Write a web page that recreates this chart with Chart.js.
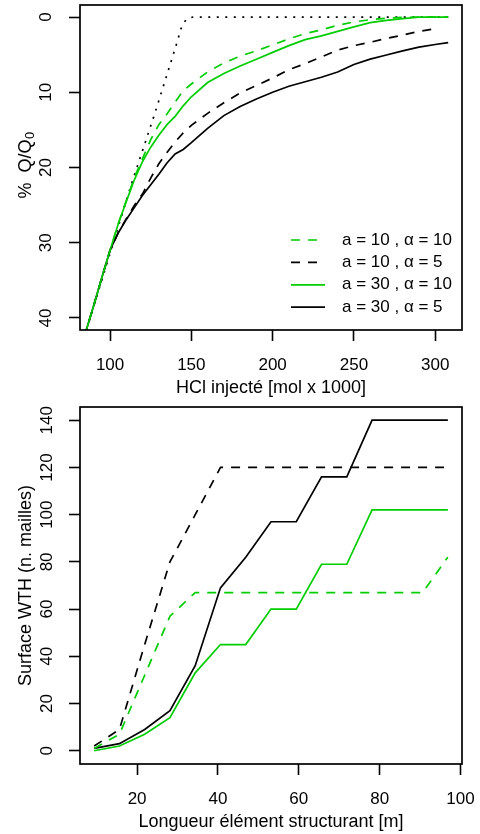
<!DOCTYPE html>
<html>
<head>
<meta charset="utf-8">
<script src="https://cdn.jsdelivr.net/npm/chart.js@4.4.0/dist/chart.umd.min.js"></script>
<style>
  body { margin: 0; background: #fff; }
  canvas { display: block; }
</style>
</head>
<body>
<canvas id="topChart" width="480" height="400"></canvas>
<canvas id="bottomChart" width="480" height="434"></canvas>
<script>
// ---- top panel : % Q/Q0 against injected HCl
const hclX = [84, 90, 95, 100, 105, 110, 115, 120, 125, 130, 135, 140, 145, 150, 160,
              170, 180, 190, 200, 210, 220, 230, 240, 250, 260, 270, 280, 290, 300, 308];
const qA10Al10 = [42.6, 38.3, 34.6, 31.0, 27.5, 24.4, 21.3, 18.8, 16.3, 14.3, 12.9, 11.3, 9.8, 8.9, 7.3,
                  6.1, 5.2, 4.5, 3.7, 2.9, 2.2, 1.7, 1.1, 0.65, 0.35, 0.15, 0.05, 0, 0, 0];
const qA10Al5 = [42.6, 38.3, 34.6, 31.0, 28.7, 26.8, 25.0, 23.5, 21.4, 19.5, 18.0, 16.6, 15.4, 14.4, 12.8,
                 11.4, 10.1, 9.1, 8.1, 7.0, 6.2, 5.3, 4.4, 3.8, 3.35, 2.85, 2.4, 1.9, 1.55, null];
const qA30Al10 = [42.6, 38.3, 34.6, 31.0, 27.5, 24.5, 21.6, 19.2, 17.3, 15.7, 14.3, 13.2, 11.8, 10.6, 8.7,
                  7.5, 6.5, 5.6, 4.7, 3.8, 3.0, 2.5, 1.9, 1.3, 0.75, 0.45, 0.2, 0.02, 0, 0];
const qA30Al5 = [42.6, 38.3, 34.6, 31.0, 28.7, 26.9, 25.3, 23.7, 22.3, 20.9, 19.4, 18.2, 17.6, 16.7, 14.8,
                 13.1, 11.9, 10.9, 10.0, 9.2, 8.6, 8.0, 7.3, 6.3, 5.6, 5.05, 4.5, 4.0, 3.65, 3.4];
// dotted reference line
const refX = [84, 113, 128, 141, 144, 147, 151, 308];
const refQ = [42.6, 22.3, 12.5, 3.5, 1.3, 0.25, 0, 0];
const topXTicks = [100, 150, 200, 250, 300];
const topYTicks = [0, 10, 20, 30, 40];

// ---- bottom panel : WTH surface against structuring element length
const lenX = [9.375, 15.625, 21.875, 28.125, 34.375, 40.625, 46.875, 53.125,
              59.375, 65.625, 71.875, 78.125, 84.375, 90.625, 96.875];
const sA10Al10 = [1, 7, 32, 57, 67, 67, 67, 67, 67, 67, 67, 67, 67, 67, 82];
const sA10Al5 = [2, 9, 45, 80, 100, 120, 120, 120, 120, 120, 120, 120, 120, 120, 120];
const sA30Al10 = [0, 2, 7, 14, 33, 45, 45, 60, 60, 79, 79, 102, 102, 102, 102];
const sA30Al5 = [1, 3, 9, 17, 36, 69, 82, 97, 97, 116, 116, 140, 140, 140, 140];
const botXTicks = [20, 40, 60, 80, 100];
const botYTicks = [0, 20, 40, 60, 80, 100, 120, 140];

const seriesLabels = ['a = 10 , \u03b1 = 10', 'a = 10 , \u03b1 = 5', 'a = 30 , \u03b1 = 10', 'a = 30 , \u03b1 = 5'];
const GREEN = '#00cd00';
const styles = [
    { color: GREEN, dash: [9, 8] },
    { color: '#000', dash: [9, 8] },
    { color: GREEN, dash: [] },
    { color: '#000', dash: [] }
];

const FAMILY = "'Liberation Sans', Arial, sans-serif";
Chart.defaults.font.family = FAMILY;
Chart.defaults.font.size = 17;
Chart.defaults.color = '#000';

function pts(xs, ys) {
    return xs.map((x, i) => ({ x: x, y: ys[i] }));
}

function lineSet(label, xs, ys, st) {
    return {
        label: label,
        data: pts(xs, ys),
        borderColor: st.color,
        borderDash: st.dash,
        borderWidth: 1.7,
        pointRadius: 0,
        tension: 0,
        fill: false
    };
}

function axisX(ticks, min, max, title) {
    return {
        type: 'linear', min: min, max: max,
        afterBuildTicks: s => { s.ticks = ticks.map(v => ({ value: v })); },
        afterFit: s => { s.height = 70; s.paddingLeft = 0; s.paddingRight = 0; },
        grid: { drawOnChartArea: false, tickLength: 11, tickColor: '#000', tickWidth: 1.6 },
        border: { display: false },
        ticks: { color: '#000', padding: 14, maxRotation: 0, autoSkip: false },
        title: { display: true, text: title, color: '#000', font: { size: 18 }, padding: { top: 0, bottom: 1.5 } }
    };
}

function axisY(ticks, min, max, reverse, pad, title) {
    return {
        type: 'linear', min: min, max: max, reverse: reverse,
        afterBuildTicks: s => { s.ticks = ticks.map(v => ({ value: v })); },
        afterFit: s => { s.width = 80; s.paddingTop = 0; s.paddingBottom = 0; },
        grid: { drawOnChartArea: false, tickLength: 11, tickColor: '#000', tickWidth: 1.6 },
        border: { display: false },
        ticks: { color: '#000', padding: pad, minRotation: 90, maxRotation: 90, crossAlign: 'center', autoSkip: false },
        title: title ? { display: true, text: title, color: '#000', font: { size: 18 }, padding: { top: 15, bottom: 0 } } : { display: false }
    };
}

// box round the plot region
const boxPlugin = {
    id: 'box',
    afterDraw(chart) {
        const a = chart.chartArea, ctx = chart.ctx;
        ctx.save();
        ctx.strokeStyle = '#000';
        ctx.lineWidth = 1.7;
        ctx.strokeRect(a.left, a.top, a.right - a.left, a.bottom - a.top);
        ctx.restore();
    }
};

// legend inside the top plot, bottom right
const legendPlugin = {
    id: 'rLegend',
    afterDraw(chart) {
        const a = chart.chartArea, ctx = chart.ctx;
        ctx.save();
        ctx.font = '17px ' + FAMILY;
        ctx.textBaseline = 'middle';
        ctx.textAlign = 'left';
        chart.data.datasets.forEach((ds, i) => {
            if (!ds.label) return;
            const y = a.bottom - 90 + i * 22.4;
            ctx.strokeStyle = ds.borderColor;
            ctx.lineWidth = 1.7;
            ctx.setLineDash(ds.borderDash);
            ctx.beginPath();
            ctx.moveTo(a.right - 171, y);
            ctx.lineTo(a.right - 137, y);
            ctx.stroke();
            ctx.setLineDash([]);
            ctx.fillStyle = '#000';
            ctx.fillText(ds.label, a.right - 120, y);
        });
        ctx.restore();
    }
};

// y title with subscript: %  Q/Q0
const qTitlePlugin = {
    id: 'qTitle',
    afterDraw(chart) {
        const a = chart.chartArea, ctx = chart.ctx;
        const main = '%  Q/Q', sub = '0';
        ctx.save();
        ctx.fillStyle = '#000';
        ctx.textBaseline = 'middle';
        ctx.textAlign = 'left';
        ctx.translate(26, (a.top + a.bottom) / 2 - 2);
        ctx.rotate(-Math.PI / 2);
        ctx.font = '18px ' + FAMILY;
        const w1 = ctx.measureText(main).width;
        ctx.font = '13px ' + FAMILY;
        const w2 = ctx.measureText(sub).width;
        const x0 = -(w1 + w2) / 2;
        ctx.font = '18px ' + FAMILY;
        ctx.fillText(main, x0, 0);
        ctx.font = '13px ' + FAMILY;
        ctx.fillText(sub, x0 + w1 + 0.5, 4.5);
        ctx.restore();
    }
};

new Chart(document.getElementById('topChart'), {
    type: 'line',
    data: {
        datasets: [
            lineSet(seriesLabels[0], hclX, qA10Al10, styles[0]),
            lineSet(seriesLabels[1], hclX, qA10Al5, styles[1]),
            lineSet(seriesLabels[2], hclX, qA30Al10, styles[2]),
            lineSet(seriesLabels[3], hclX, qA30Al5, styles[3]),
            lineSet('', refX, refQ, { color: '#000', dash: [2, 6.5] })
        ]
    },
    options: {
        responsive: false,
        animation: false,
        layout: { autoPadding: false, padding: { top: 5, right: 18, left: 0, bottom: 0 } },
        plugins: { legend: { display: false }, tooltip: { enabled: false } },
        scales: {
            x: axisX(topXTicks, 81.5, 316.5, 'HCl inject\u00e9 [mol x 1000]'),
            y: axisY(topYTicks, -1.6, 41.6, true, 13, null)
        }
    },
    plugins: [boxPlugin, legendPlugin, qTitlePlugin]
});

new Chart(document.getElementById('bottomChart'), {
    type: 'line',
    data: {
        datasets: [
            lineSet(seriesLabels[0], lenX, sA10Al10, styles[0]),
            lineSet(seriesLabels[1], lenX, sA10Al5, styles[1]),
            lineSet(seriesLabels[2], lenX, sA30Al10, styles[2]),
            lineSet(seriesLabels[3], lenX, sA30Al5, styles[3])
        ]
    },
    options: {
        responsive: false,
        animation: false,
        layout: { autoPadding: false, padding: { top: 7, right: 18, left: 0, bottom: 0 } },
        plugins: { legend: { display: false }, tooltip: { enabled: false } },
        scales: {
            x: axisX(botXTicks, 5.875, 100.375, 'Longueur \u00e9l\u00e9ment structurant [m]'),
            y: axisY(botYTicks, -5.6, 145.6, false, 8, 'Surface WTH (n. mailles)')
        }
    },
    plugins: [boxPlugin]
});
</script>
</body>
</html>
